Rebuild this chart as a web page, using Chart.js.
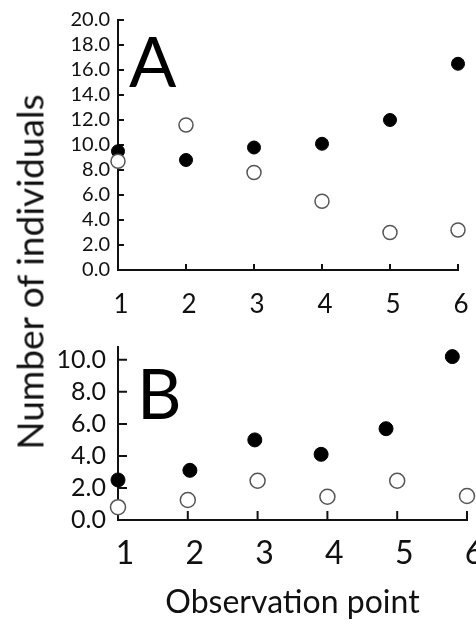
<!DOCTYPE html>
<html>
<head>
<meta charset="utf-8">
<script src="https://cdn.jsdelivr.net/npm/chart.js@4.4.0/dist/chart.umd.min.js"></script>
<style>
  body { margin: 0; background: #fff; font-family: Lato, sans-serif; }
  #page { position: relative; width: 476px; height: 628px; overflow: hidden; }
  #boxA { position: absolute; left: 0; top: 0; width: 476px; height: 320px; }
  #boxB { position: absolute; left: 0; top: 320px; width: 476px; height: 308px; }
  #yTitle {
    position: absolute; left: 29px; top: 272px;
    transform: translate(-50%, -50%) rotate(-90deg);
    white-space: nowrap; font-size: 37px; color: #111;
  }
</style>
</head>
<body>
<div id="page">
  <div id="boxA"><canvas id="chartA"></canvas></div>
  <div id="boxB"><canvas id="chartB"></canvas></div>
  <div id="yTitle">Number of individuals</div>
</div>
<script>
// observation points (x axis)
const points = [1, 2, 3, 4, 5, 6];

// panel A
const aFilled = [9.5, 8.8, 9.8, 10.1, 12.0, 16.5];
const aOpen = [8.7, 11.6, 7.8, 5.5, 3.0, 3.2];
const aTicks = [0, 2, 4, 6, 8, 10, 12, 14, 16, 18, 20];

// panel B (filled dots sit a little left of the ticks in the original)
const bFilledX = [1, 2.03, 2.96, 3.91, 4.84, 5.79];
const bFilled = [2.5, 3.1, 5.0, 4.1, 5.7, 10.2];
const bOpen = [0.8, 1.25, 2.45, 1.45, 2.45, 1.5];
const bTicks = [0, 2, 4, 6, 8, 10];

const toXY = (xs, ys) => ys.map((y, i) => ({ x: xs[i], y: y }));

// short tick marks pointing into the plot
const innerTicks = {
  id: 'innerTicks',
  beforeDatasetsDraw(chart, args, opts) {
    const ctx = chart.ctx;
    const x = chart.scales.x, y = chart.scales.y;
    ctx.save();
    ctx.strokeStyle = '#111';
    ctx.lineWidth = 2;
    ctx.beginPath();
    x.ticks.forEach(t => {
      const px = x.getPixelForValue(t.value);
      ctx.moveTo(px, x.top);
      ctx.lineTo(px, x.top - opts.len);
    });
    y.ticks.forEach(t => {
      const py = y.getPixelForValue(t.value);
      ctx.moveTo(y.right, py);
      ctx.lineTo(y.right + opts.len, py);
    });
    ctx.stroke();
    ctx.restore();
  }
};

// big panel letter
const panelLetter = {
  id: 'panelLetter',
  afterDraw(chart, args, opts) {
    const ctx = chart.ctx;
    ctx.save();
    ctx.font = opts.size + 'px Lato, sans-serif';
    ctx.fillStyle = '#000';
    ctx.textBaseline = 'alphabetic';
    ctx.fillText(opts.text, chart.chartArea.left + opts.dx, chart.chartArea.top + opts.dy);
    ctx.restore();
  }
};

function filledSet(data, r) {
  return {
    data: data, clip: false,
    pointRadius: r, pointHoverRadius: r,
    pointBackgroundColor: '#000', pointBorderColor: '#000', pointBorderWidth: 1
  };
}
function openSet(data, r) {
  return {
    data: data, clip: false,
    pointRadius: r, pointHoverRadius: r,
    pointBackgroundColor: '#fff', pointBorderColor: '#555', pointBorderWidth: 1.5
  };
}

function makeChart(id, cfg) {
  return new Chart(document.getElementById(id), {
    type: 'scatter',
    data: { datasets: cfg.datasets },
    options: {
      responsive: true, maintainAspectRatio: false, animation: false,
      layout: { padding: cfg.padding },
      plugins: {
        legend: { display: false }, tooltip: { enabled: false },
        panelLetter: cfg.letter,
        innerTicks: { len: cfg.tickLen }
      },
      scales: {
        x: {
          type: 'linear', min: 1, max: 6,
          grid: { display: false, drawTicks: false },
          border: { display: true, color: '#111', width: 2 },
          afterBuildTicks: s => { s.ticks = points.map(v => ({ value: v })); },
          afterFit: s => { s.height = cfg.xHeight; s.paddingLeft = 0; s.paddingRight = 0; },
          ticks: {
            color: '#111', padding: cfg.xPad, labelOffset: cfg.xOffset,
            font: { family: 'Lato', size: cfg.xFont },
            callback: v => String(v)
          },
          title: cfg.xTitle
        },
        y: {
          min: 0, max: cfg.yMax,
          grid: { display: false, drawTicks: false },
          border: { display: true, color: '#111', width: 2 },
          afterBuildTicks: s => { s.ticks = cfg.yTicks.map(v => ({ value: v })); },
          afterFit: s => { s.width = 118; },
          ticks: {
            color: '#111', padding: cfg.yPad, autoSkip: false,
            font: { family: 'Lato', size: cfg.yFont },
            callback: v => v.toFixed(1)
          }
        }
      }
    },
    plugins: [innerTicks, panelLetter]
  });
}

makeChart('chartA', {
  datasets: [openSet(toXY(points, aOpen), 7), filledSet(toXY(points, aFilled), 6.5)],
  padding: { top: 14, right: 18, left: 0, bottom: 0 },
  yMax: 20, yTicks: aTicks, yPad: 8, yFont: 20, tickLen: 6,
  xHeight: 50, xPad: 19, xOffset: 3, xFont: 26,
  xTitle: { display: false },
  letter: { text: 'A', size: 70, dx: 11, dy: 67 }
});

makeChart('chartB', {
  datasets: [openSet(toXY(points, bOpen), 7.5), filledSet(toXY(bFilledX, bFilled), 7)],
  padding: { top: 20, right: 8, left: 0, bottom: 0 },
  yMax: 10.8, yTicks: bTicks, yPad: 12, yFont: 25, tickLen: 9,
  xHeight: 108, xPad: 14, xOffset: 7, xFont: 32,
  xTitle: {
    display: true, text: 'Observation point', color: '#111',
    font: { family: 'Lato', size: 32 }, padding: { top: 0, bottom: 6 }
  },
  letter: { text: 'B', size: 69, dx: 19, dy: 72 }
});
</script>
</body>
</html>
